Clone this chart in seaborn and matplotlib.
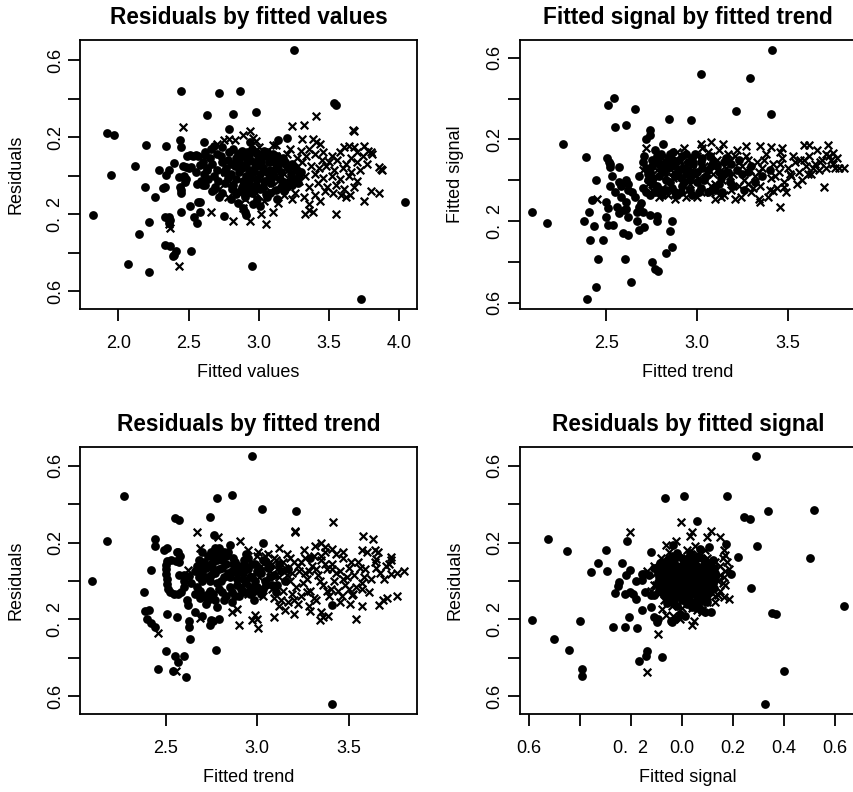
import matplotlib
matplotlib.use("Agg")
import pandas as pd
import matplotlib.pyplot as plt
import seaborn as sns

# Panel 1: residuals by fitted values (x = fitted value, y = residual)
fv_dots = [
    (3.25, 0.65), (2.45, 0.44), (2.72, 0.43), (2.87, 0.44), (3.54, 0.375), (3.55, 0.365),
    (2.63, 0.315), (2.82, 0.32), (2.98, 0.33), (2.79, 0.24), (1.92, 0.22), (1.97, 0.21),
    (2.20, 0.157), (2.34, 0.154), (2.44, 0.185), (2.45, 0.15), (2.61, 0.176), (3.14, 0.185),
    (3.20, 0.194), (2.12, 0.052), (1.95, 0.003), (2.19, -0.057), (2.26, -0.111), (2.29, 0.03),
    (2.32, -0.066), (2.33, -0.06), (2.34, 0.003), (2.36, 0.03), (2.40, 0.064), (2.43, -0.005),
    (2.45, -0.074), (2.45, -0.09), (2.44, -0.06), (2.475, -0.031), (2.49, 0.10), (2.51, 0.105),
    (2.53, 0.10), (2.55, 0.105), (2.57, 0.10), (2.46, 0.05), (2.48, 0.045), (2.50, 0.04),
    (2.52, 0.045), (2.58, 0.055), (2.59, -0.03), (2.60, -0.05), (2.63, 0.03), (2.58, -0.135),
    (2.57, -0.135), (2.45, -0.19), (2.51, -0.16), (2.58, -0.19), (2.54, -0.216), (2.56, -0.244),
    (1.82, -0.204), (2.33, -0.213), (2.36, -0.216), (2.36, -0.244), (2.37, -0.23), (2.22, -0.239),
    (2.15, -0.303), (2.33, -0.36), (2.37, -0.365), (2.41, -0.394), (2.39, -0.42), (2.40, -0.41),
    (2.52, -0.394), (2.07, -0.46), (2.22, -0.498), (2.95, -0.469), (2.75, -0.209), (2.90, -0.19),
    (2.91, -0.205), (3.73, -0.642), (4.04, -0.136), (3.01, -0.16), (2.89, -0.17), (2.47, 0.0),
    (2.48, -0.02), (2.55, 0.02), (2.56, -0.045), (2.68, 0.155), (2.94, 0.176), (2.62, 0.107),
    (2.66, 0.14), (2.74, 0.15), (2.82, 0.14), (2.88, 0.13), (2.95, 0.14), (3.04, 0.13),
    (2.62, 0.12), (2.70, 0.11), (2.79, 0.12), (2.85, 0.11), (2.92, 0.12), (2.99, 0.11),
    (3.06, 0.12), (3.13, 0.10), (2.65, 0.09), (2.73, 0.10), (2.78, 0.08), (2.84, 0.09),
    (2.89, 0.10), (2.94, 0.08), (3.00, 0.09), (3.05, 0.10), (3.10, 0.08), (3.17, 0.09),
    (2.60, 0.07), (2.67, 0.06), (2.74, 0.07), (2.81, 0.06), (2.86, 0.07), (2.91, 0.06),
    (2.97, 0.07), (3.02, 0.06), (3.07, 0.07), (3.12, 0.06), (3.19, 0.07), (3.24, 0.06),
    (2.63, 0.04), (2.70, 0.03), (2.77, 0.04), (2.83, 0.05), (2.88, 0.04), (2.93, 0.03),
    (2.98, 0.05), (3.03, 0.04), (3.08, 0.03), (3.14, 0.05), (3.21, 0.04), (3.27, 0.03),
    (2.61, 0.01), (2.68, 0.00), (2.75, 0.02), (2.80, 0.01), (2.86, 0.02), (2.91, 0.00),
    (2.96, 0.02), (3.01, 0.01), (3.06, 0.02), (3.11, 0.00), (3.16, 0.02), (3.23, 0.01),
    (3.29, 0.00), (2.64, -0.02), (2.71, -0.03), (2.78, -0.01), (2.84, -0.02), (2.89, -0.03),
    (2.94, -0.01), (2.99, -0.02), (3.04, -0.03), (3.09, -0.01), (3.15, -0.02), (3.22, -0.03),
    (2.62, -0.05), (2.69, -0.06), (2.76, -0.04), (2.82, -0.05), (2.88, -0.06), (2.93, -0.04),
    (2.98, -0.05), (3.03, -0.06), (3.09, -0.04), (3.16, -0.06), (3.24, -0.05), (2.67, -0.08),
    (2.74, -0.09), (2.81, -0.07), (2.87, -0.08), (2.95, -0.09), (3.01, -0.07), (3.08, -0.09),
    (3.18, -0.08), (2.72, -0.11), (2.80, -0.12), (2.90, -0.11), (2.99, -0.12), (3.06, -0.11),
    (3.13, -0.12), (2.85, -0.14), (2.96, -0.15), (2.92, 0.085), (2.97, 0.035), (3.02, 0.075),
    (3.07, -0.015), (3.12, 0.035), (3.18, -0.035), (2.93, -0.065), (2.86, 0.045), (3.10, 0.11),
    (2.87, 0.115), (2.93, 0.105), (2.98, 0.125), (3.03, 0.105), (3.08, 0.095), (3.15, 0.075),
    (3.20, 0.05), (3.26, 0.045), (3.25, -0.02), (3.20, -0.06), (3.12, -0.075), (3.05, -0.095),
    (2.97, -0.075), (2.91, -0.09), (2.84, -0.095), (3.30, 0.02), (3.28, -0.04),
]
fv_crosses = [
    (2.46, 0.25), (2.94, 0.23), (2.89, 0.21), (3.24, 0.255), (3.32, 0.265), (3.41, 0.31),
    (3.67, 0.235), (3.68, 0.23), (2.75, 0.185), (2.79, 0.19), (2.83, 0.185), (2.70, 0.165),
    (3.31, 0.19), (3.39, 0.19), (3.41, 0.175), (3.12, 0.16), (3.44, 0.165), (3.61, 0.15),
    (3.64, 0.155), (3.68, 0.15), (3.75, 0.155), (3.78, 0.13), (3.80, 0.12), (3.81, 0.11),
    (3.86, 0.045), (3.87, 0.035), (3.88, 0.03), (3.80, -0.08), (3.86, -0.09), (3.75, -0.13),
    (3.55, -0.20), (3.33, -0.20), (3.36, -0.18), (3.39, -0.19), (3.10, -0.19), (3.05, -0.25),
    (2.94, -0.235), (2.82, -0.235), (3.02, -0.20), (2.66, -0.19), (2.89, -0.17), (2.43, -0.47),
    (2.37, -0.27), (2.36, -0.25), (3.62, -0.11), (3.65, -0.10), (3.59, -0.10),
    (3.22, 0.14), (3.30, 0.13), (3.36, 0.14), (3.46, 0.12), (3.52, 0.10), (3.58, 0.12),
    (3.70, 0.12), (3.74, 0.10), (3.66, 0.09), (3.05, 0.12), (3.12, 0.10), (3.20, 0.11),
    (3.27, 0.09), (3.34, 0.10), (3.40, 0.11), (3.45, 0.08), (3.50, 0.07), (3.56, 0.08),
    (3.62, 0.06), (3.70, 0.07), (3.77, 0.06), (3.00, 0.08), (3.08, 0.07), (3.16, 0.06),
    (3.24, 0.05), (3.31, 0.07), (3.37, 0.05), (3.43, 0.04), (3.48, 0.05), (3.54, 0.03),
    (3.60, 0.04), (3.66, 0.02), (3.72, 0.03), (2.92, 0.05), (3.02, 0.03), (3.10, 0.02),
    (3.18, 0.01), (3.26, 0.02), (3.33, 0.00), (3.40, 0.01), (3.46, -0.01), (3.52, 0.00),
    (3.58, -0.02), (3.64, 0.00), (3.70, -0.03), (2.95, -0.02), (3.05, -0.04), (3.14, -0.03),
    (3.22, -0.05), (3.29, -0.03), (3.36, -0.06), (3.42, -0.04), (3.49, -0.06), (3.55, -0.05),
    (3.61, -0.07), (3.68, -0.06), (2.85, -0.08), (2.98, -0.09), (3.08, -0.08), (3.18, -0.10),
    (3.26, -0.09), (3.32, -0.11), (3.40, -0.10), (3.47, -0.08), (3.53, -0.09), (2.78, -0.11),
    (2.90, -0.12), (3.04, -0.13), (3.14, -0.14), (3.24, -0.12), (3.36, -0.15), (3.44, -0.13),
    (2.72, -0.07), (2.80, -0.04), (2.76, 0.02), (2.86, 0.10), (2.95, 0.12), (3.00, 0.15),
    (3.10, 0.16), (2.98, 0.18), (2.96, 0.195),
]

# Panel 2: fitted signal by fitted trend (x = trend, y = signal)
ts_dots = [
    (3.414, 0.638), (3.024, 0.518), (3.294, 0.502), (2.544, 0.401), (2.509, 0.368), (2.66, 0.349),
    (3.213, 0.337), (3.41, 0.324), (2.847, 0.298), (2.969, 0.295), (2.55, 0.262), (2.608, 0.27),
    (2.739, 0.246), (2.739, 0.221), (2.72, 0.20), (2.261, 0.177), (2.811, 0.176), (2.39, 0.115),
    (2.504, 0.107), (2.515, 0.09), (2.52, 0.08), (2.52, 0.066), (2.568, 0.063), (2.443, 0.0),
    (2.52, -0.03), (2.57, -0.01), (2.58, -0.03), (2.61, 0.0), (2.62, -0.02), (2.62, -0.05),
    (2.42, -0.097), (2.50, -0.105), (2.51, -0.137), (2.092, -0.156), (2.406, -0.154),
    (2.173, -0.211), (2.38, -0.2), (2.43, -0.222), (2.50, -0.18), (2.51, -0.22), (2.54, -0.22),
    (2.56, -0.13), (2.57, -0.16), (2.60, -0.145), (2.61, -0.14), (2.61, -0.105), (2.62, -0.18),
    (2.67, -0.154), (2.69, -0.11), (2.59, -0.26), (2.62, -0.27), (2.67, -0.2), (2.68, -0.245),
    (2.71, -0.23), (2.74, -0.17), (2.78, -0.175), (2.78, -0.2), (2.86, -0.2), (2.85, -0.25),
    (2.86, -0.326), (2.83, -0.354), (2.41, -0.293), (2.485, -0.293), (2.454, -0.388),
    (2.605, -0.388), (2.752, -0.40), (2.77, -0.437), (2.785, -0.445), (2.636, -0.497),
    (2.441, -0.522), (2.393, -0.584), (2.64, -0.06), (2.66, -0.08), (2.68, -0.13), (2.70, -0.155),
    (2.55, -0.06), (2.58, -0.08), (2.53, 0.02),
    (2.68, 0.02), (2.70, -0.04), (2.72, 0.06), (2.74, -0.07), (2.75, 0.10), (2.76, 0.01),
    (2.78, -0.03), (2.79, 0.08), (2.80, 0.13), (2.81, -0.07), (2.82, 0.04), (2.84, 0.11),
    (2.85, -0.01), (2.86, 0.07), (2.87, 0.14), (2.88, -0.06), (2.89, 0.03), (2.90, 0.10),
    (2.92, -0.03), (2.93, 0.06), (2.94, 0.13), (2.96, 0.00), (2.97, -0.07), (2.98, 0.08),
    (3.00, 0.04), (3.02, -0.04), (3.03, 0.11), (3.05, 0.02), (3.08, 0.07), (3.10, -0.05),
    (3.12, 0.04), (3.15, 0.09), (3.18, -0.01), (3.22, 0.05), (2.71, 0.12), (2.77, 0.15),
    (2.83, 0.09), (2.91, 0.01), (2.95, 0.05), (2.74, 0.04), (2.77, -0.06), (2.80, 0.06),
    (2.83, -0.05), (2.85, 0.13), (2.88, 0.08), (2.91, -0.06), (2.94, 0.03), (2.97, 0.11),
    (3.00, -0.01), (3.03, 0.06), (3.06, -0.06), (3.09, 0.09), (3.12, -0.02), (3.15, 0.03),
    (3.19, 0.08), (3.25, 0.03), (3.30, 0.07), (2.78, 0.10), (2.73, 0.00),
    (2.70, 0.09), (2.72, -0.06), (2.73, 0.03), (2.75, 0.07), (2.76, -0.02), (2.78, 0.12),
    (2.79, 0.02), (2.80, -0.05), (2.81, 0.08), (2.83, 0.00), (2.84, 0.06), (2.86, -0.04),
    (2.87, 0.10), (2.88, 0.02), (2.89, -0.07), (2.90, 0.05), (2.92, 0.12), (2.93, -0.01),
    (2.95, 0.09), (2.96, -0.05), (2.98, 0.03), (2.99, 0.13), (3.01, -0.06), (3.02, 0.09),
    (3.04, 0.00), (3.06, 0.05), (3.07, 0.12), (3.09, -0.04), (3.11, 0.07), (3.13, 0.01),
    (3.14, -0.06), (3.16, 0.11), (3.17, 0.04), (3.20, -0.03), (3.23, 0.10), (3.26, -0.05),
    (3.28, 0.04), (3.32, -0.01), (3.36, 0.02), (3.40, 0.05),
]
ts_crosses = [
    (3.02, 0.18), (3.08, 0.185), (3.145, 0.18), (3.27, 0.17), (3.35, 0.17), (3.41, 0.165),
    (3.47, 0.16), (3.59, 0.175), (3.62, 0.175), (3.66, 0.15), (3.72, 0.175), (3.75, 0.135),
    (3.76, 0.06), (3.78, 0.06), (3.81, 0.06), (3.70, -0.035), (3.46, -0.13), (3.35, -0.105),
    (3.48, -0.035), (3.42, -0.055), (2.72, 0.16), (2.45, -0.09),
    (2.70, 0.05), (2.73, -0.02), (2.76, 0.09), (2.79, -0.08), (2.83, 0.02), (2.86, 0.12),
    (2.88, -0.09), (2.90, 0.06), (2.93, 0.16), (2.95, -0.05), (2.98, 0.11), (3.00, -0.08),
    (3.01, 0.01), (3.04, 0.07), (3.06, 0.14), (3.07, -0.06), (3.09, 0.03), (3.11, 0.10),
    (3.13, -0.08), (3.14, 0.00), (3.16, 0.06), (3.17, 0.13), (3.19, -0.05), (3.20, 0.03),
    (3.23, 0.09), (3.24, -0.08), (3.26, 0.00), (3.27, 0.12), (3.29, 0.05), (3.30, -0.06),
    (3.32, 0.02), (3.33, 0.09), (3.35, -0.03), (3.36, 0.06), (3.38, 0.13), (3.39, -0.08),
    (3.41, 0.01), (3.42, 0.08), (3.44, -0.04), (3.45, 0.04), (3.47, 0.11), (3.48, -0.01),
    (3.50, 0.06), (3.52, 0.02), (3.54, 0.09), (3.56, 0.04), (3.58, 0.00), (3.60, 0.07),
    (3.62, 0.12), (3.63, 0.03), (3.65, 0.08), (3.67, 0.05), (3.69, 0.10), (3.71, 0.06),
    (3.73, 0.12), (3.75, 0.08), (3.59, 0.10), (3.53, 0.12), (3.46, 0.14), (3.22, 0.15),
    (3.12, 0.15), (3.03, 0.16), (2.96, -0.02), (3.08, -0.03), (3.18, 0.10), (3.28, -0.02),
    (3.34, -0.09), (3.21, -0.09), (3.10, -0.09), (2.99, 0.02), (2.87, 0.04), (2.81, -0.04),
    (2.75, -0.05), (2.78, 0.05), (2.81, 0.11), (2.84, -0.07), (2.87, 0.01), (2.89, 0.14),
    (2.92, 0.08), (2.94, -0.08), (2.97, 0.05), (3.00, 0.12), (3.02, -0.06), (3.05, 0.04),
    (3.08, 0.12), (3.10, -0.02), (3.13, 0.05), (3.15, -0.07), (3.18, 0.02), (3.21, 0.12),
    (3.23, -0.03), (3.25, 0.07), (3.28, 0.10), (3.31, -0.04), (3.34, 0.04), (3.37, 0.10),
    (3.40, -0.05), (3.43, 0.02), (3.46, 0.08), (3.49, -0.06), (3.51, 0.03), (3.55, -0.02),
    (3.57, 0.10), (3.61, 0.03), (3.64, 0.06), (3.68, 0.09), (3.71, 0.13), (3.74, 0.10),
    (3.77, 0.11),
]

# Panel 3: residuals by fitted trend (x = trend, y = residual)
tr_dots = [
    (2.973, 0.652), (2.271, 0.441), (2.864, 0.448), (2.782, 0.43), (3.025, 0.373), (3.209, 0.366),
    (2.553, 0.326), (2.571, 0.316), (2.74, 0.332), (2.18, 0.207), (2.444, 0.219), (2.444, 0.181),
    (2.765, 0.24), (3.029, 0.197), (2.489, 0.159), (2.505, 0.17), (2.569, 0.153), (2.10, 0.0),
    (2.418, 0.055), (2.384, -0.058), (2.389, -0.158), (2.411, -0.15), (2.40, -0.20), (2.42, -0.22),
    (2.44, -0.24), (2.51, -0.17), (2.56, -0.19), (2.50, -0.365), (2.55, -0.392), (2.565, -0.42),
    (2.60, -0.392), (2.46, -0.46), (2.54, -0.47), (2.61, -0.50), (2.775, -0.36), (3.405, -0.642),
    (2.633, -0.30), (2.63, -0.21), (2.63, -0.24), (2.66, -0.16), (2.70, -0.18), (2.74, -0.23),
    (2.76, -0.21), (2.79, -0.20), (2.75, -0.205), (2.78, -0.135), (2.62, -0.125), (2.615, -0.10),
    (3.405, -0.127), (3.287, 0.12), (2.77, 0.17), (2.78, 0.155),
    (2.51, 0.105), (2.53, 0.11), (2.555, 0.105), (2.575, 0.10), (2.50, 0.085), (2.50, 0.06),
    (2.50, 0.035), (2.505, 0.01), (2.51, -0.015), (2.515, -0.04), (2.525, -0.06), (2.545, -0.07),
    (2.565, -0.07), (2.585, -0.06), (2.575, 0.03), (2.60, 0.03), (2.625, 0.025), (2.60, 0.00),
    (2.60, -0.03), (2.56, 0.15), (2.58, 0.13),
    (2.66, 0.05), (2.67, -0.03), (2.68, 0.11), (2.70, 0.00), (2.71, -0.08), (2.72, 0.07),
    (2.73, 0.13), (2.74, -0.05), (2.75, 0.03), (2.76, 0.10), (2.77, -0.10), (2.78, -0.01),
    (2.79, 0.06), (2.80, 0.14), (2.81, -0.06), (2.82, 0.02), (2.83, 0.09), (2.84, 0.15),
    (2.85, -0.03), (2.86, 0.05), (2.87, 0.12), (2.88, -0.08), (2.89, 0.01), (2.90, 0.08),
    (2.91, -0.04), (2.92, 0.04), (2.93, 0.11), (2.94, -0.01), (2.95, 0.06), (2.96, -0.07),
    (2.97, 0.02), (2.99, 0.09), (3.00, -0.03), (3.02, 0.04), (3.04, 0.00), (3.06, 0.07),
    (3.08, -0.02), (2.69, 0.09), (2.77, 0.13), (2.64, -0.01), (2.72, -0.12), (2.86, -0.11),
    (2.98, -0.10), (2.79, 0.17), (2.85, 0.19), (2.70, 0.15), (2.68, 0.02), (2.71, 0.10),
    (2.74, 0.00), (2.76, 0.06), (2.79, -0.04), (2.81, 0.11), (2.83, -0.08), (2.84, 0.04),
    (2.87, 0.09), (2.89, -0.02), (2.91, 0.05), (2.93, -0.06), (2.95, 0.12), (2.96, 0.02),
    (2.98, -0.05), (3.01, 0.06), (3.03, -0.04), (3.05, 0.10), (3.07, 0.02), (3.10, -0.06),
    (3.13, 0.05), (2.66, -0.07), (2.69, -0.09), (2.73, -0.07), (2.75, 0.15), (2.82, 0.15),
    (2.67, 0.08), (2.69, -0.05), (2.70, 0.05), (2.72, 0.02), (2.73, -0.10), (2.75, 0.09),
    (2.76, -0.07), (2.77, 0.04), (2.78, 0.11), (2.80, 0.00), (2.81, 0.07), (2.82, -0.10),
    (2.83, 0.13), (2.85, 0.02), (2.86, -0.06), (2.88, 0.10), (2.89, 0.04), (2.90, -0.08),
    (2.92, 0.01), (2.93, 0.08), (2.94, 0.14), (2.96, -0.03), (2.97, 0.09), (2.99, 0.00),
    (3.00, 0.05), (3.02, -0.07), (3.03, 0.11), (3.05, -0.02), (3.07, 0.08), (3.09, 0.03),
    (3.11, -0.02), (3.12, 0.09), (3.15, 0.00), (3.17, 0.06),
]
tr_crosses = [
    (3.411, 0.309), (3.204, 0.262), (3.207, 0.254), (2.67, 0.254), (3.578, 0.233), (3.63, 0.219),
    (2.787, 0.228), (2.905, 0.207), (2.69, 0.174), (2.95, 0.159), (3.005, 0.15), (3.12, 0.17),
    (3.255, 0.164), (3.315, 0.184), (3.35, 0.20), (3.37, 0.175), (3.405, 0.166), (3.47, 0.15),
    (3.57, 0.159), (3.596, 0.15), (3.64, 0.159), (3.66, 0.15), (3.65, 0.115), (3.73, 0.124),
    (3.73, 0.107), (3.70, 0.08), (3.73, 0.037), (3.80, 0.05), (3.57, -0.01), (3.665, -0.124),
    (3.687, -0.10), (3.705, -0.09), (3.76, -0.08), (3.57, -0.13), (3.54, -0.20), (3.515, -0.075),
    (3.505, -0.12), (3.34, -0.205), (3.36, -0.188), (3.385, -0.18), (3.35, -0.16), (3.29, -0.158),
    (3.20, -0.17), (3.15, -0.15), (3.09, -0.188), (2.987, -0.175), (2.996, -0.197), (2.97, -0.205),
    (3.005, -0.243), (2.90, -0.23), (2.864, -0.162), (2.89, -0.145), (2.69, -0.193), (2.46, -0.27),
    (2.556, -0.47), (2.62, 0.055),
    (2.88, 0.06), (2.91, -0.02), (2.94, 0.10), (2.97, 0.03), (3.00, -0.06), (3.02, 0.08),
    (3.04, 0.13), (3.05, -0.01), (3.07, 0.05), (3.09, -0.09), (3.10, 0.11), (3.12, 0.02),
    (3.14, -0.05), (3.15, 0.07), (3.17, -0.11), (3.18, 0.00), (3.20, 0.10), (3.21, -0.03),
    (3.23, 0.05), (3.24, -0.08), (3.26, 0.12), (3.27, 0.01), (3.29, -0.05), (3.30, 0.08),
    (3.32, -0.10), (3.33, 0.03), (3.35, 0.11), (3.36, -0.02), (3.38, 0.06), (3.39, -0.08),
    (3.41, 0.09), (3.42, 0.00), (3.44, -0.05), (3.45, 0.05), (3.47, 0.12), (3.48, -0.02),
    (3.50, 0.07), (3.52, -0.07), (3.53, 0.03), (3.55, 0.10), (3.57, -0.04), (3.59, 0.06),
    (3.62, 0.01), (3.64, 0.10), (3.67, 0.04), (3.45, -0.11), (3.31, 0.13), (3.22, -0.12),
    (3.12, -0.13), (3.06, 0.14), (3.37, 0.15), (3.43, 0.14), (3.16, 0.14), (3.28, -0.13),
    (2.95, -0.07), (3.00, 0.13), (3.01, 0.02), (3.03, -0.08), (3.06, 0.09), (3.08, -0.04),
    (3.11, 0.06), (3.13, -0.10), (3.16, 0.03), (3.19, -0.07), (3.22, 0.08), (3.25, -0.01),
    (3.28, 0.05), (3.31, -0.09), (3.34, 0.00), (3.37, 0.09), (3.40, -0.04), (3.43, 0.04),
    (3.46, -0.08), (3.49, 0.02), (3.51, 0.10), (3.54, -0.03), (3.58, 0.02), (3.61, -0.06),
    (3.65, 0.07), (3.69, 0.01), (3.72, 0.09), (3.76, 0.04), (3.35, 0.13), (3.18, 0.12),
    (3.09, 0.12), (3.14, 0.10), (3.19, 0.04), (3.24, 0.10), (3.27, -0.06), (3.32, 0.06),
    (3.38, -0.05), (3.41, 0.06), (3.47, 0.01), (3.50, -0.04), (3.56, 0.07), (3.26, 0.04),
    (3.20, -0.10),
]

# Panel 4: residuals by fitted signal (x = signal, y = residual)
sr_dots = [
    (0.292, 0.652), (0.007, 0.444), (-0.068, 0.43), (0.176, 0.441), (0.336, 0.366), (0.519, 0.371),
    (0.242, 0.332), (0.265, 0.323), (0.061, 0.314), (-0.524, 0.219), (-0.45, 0.155), (-0.297, 0.159),
    (-0.214, 0.207), (0.174, 0.193), (0.294, 0.184), (0.218, 0.124), (0.503, 0.12), (-0.327, 0.094),
    (-0.357, 0.049), (-0.294, 0.051), (-0.235, 0.094), (-0.218, 0.032), (-0.203, 0.055),
    (-0.248, -0.006), (-0.252, -0.027), (-0.261, -0.061), (-0.222, -0.067), (-0.203, -0.058),
    (-0.19, -0.067), (-0.18, -0.093), (-0.18, 0.002), (-0.157, 0.006), (-0.144, -0.058),
    (-0.15, 0.037), (-0.122, 0.15), (-0.127, 0.029), (-0.111, 0.066), (-0.12, -0.136),
    (-0.157, -0.153), (-0.111, -0.188), (-0.098, -0.214), (-0.092, -0.2), (-0.208, -0.19),
    (-0.176, -0.245), (-0.222, -0.24), (-0.27, -0.24), (-0.399, -0.21), (-0.587, -0.205),
    (-0.50, -0.304), (-0.442, -0.36), (-0.392, -0.46), (-0.391, -0.496), (-0.169, -0.418),
    (-0.14, -0.39), (-0.135, -0.366), (-0.077, -0.396), (0.269, -0.036), (0.353, -0.165),
    (0.37, -0.174), (0.634, -0.133), (0.401, -0.47), (0.324, -0.642), (0.114, -0.162),
    (0.193, 0.034), (-0.042, -0.21), (-0.157, 0.037), (-0.122, -0.075), (-0.111, -0.075),
    (-0.04, -0.214), (-0.026, -0.2), (-0.007, -0.17), (0.013, -0.18), (0.072, -0.145),
    (0.092, -0.162), (0.105, 0.176), (0.072, 0.167), (-0.033, 0.19),
    (-0.04, 0.13), (0.00, 0.12), (0.04, 0.13), (0.08, 0.12), (-0.07, 0.10), (-0.03, 0.11),
    (0.01, 0.10), (0.05, 0.11), (0.09, 0.10), (0.12, 0.11), (-0.08, 0.08), (-0.05, 0.09),
    (-0.02, 0.08), (0.02, 0.09), (0.06, 0.08), (0.10, 0.07), (-0.09, 0.06), (-0.06, 0.05),
    (-0.03, 0.06), (0.00, 0.07), (0.03, 0.06), (0.07, 0.05), (0.11, 0.06), (-0.08, 0.04),
    (-0.05, 0.03), (-0.01, 0.04), (0.02, 0.03), (0.05, 0.04), (0.09, 0.03), (0.13, 0.04),
    (-0.09, 0.02), (-0.06, 0.01), (-0.03, 0.02), (0.01, 0.01), (0.04, 0.02), (0.08, 0.01),
    (0.11, 0.02), (-0.08, 0.00), (-0.05, -0.01), (-0.02, 0.00), (0.02, -0.01), (0.05, 0.00),
    (0.09, -0.01), (0.12, 0.00), (-0.09, -0.02), (-0.06, -0.03), (-0.03, -0.02), (0.00, -0.03),
    (0.04, -0.02), (0.07, -0.03), (0.11, -0.02), (-0.08, -0.05), (-0.04, -0.04), (-0.01, -0.05),
    (0.03, -0.04), (0.06, -0.05), (0.10, -0.04), (-0.07, -0.07), (-0.03, -0.06), (0.01, -0.07),
    (0.04, -0.06), (0.08, -0.07), (0.11, -0.06), (-0.06, -0.09), (-0.02, -0.08), (0.02, -0.09),
    (0.06, -0.08), (0.09, -0.09), (-0.04, -0.11), (0.00, -0.10), (0.04, -0.11), (0.08, -0.10),
    (-0.02, -0.13), (0.02, -0.12), (0.06, -0.13),
    (-0.055, 0.115), (-0.015, 0.13), (0.025, 0.12), (0.065, 0.125), (0.105, 0.09), (-0.085, 0.095),
    (-0.035, 0.085), (0.005, 0.085), (0.045, 0.095), (0.085, 0.085), (-0.075, 0.065), (-0.045, 0.07),
    (-0.015, 0.065), (0.015, 0.075), (0.055, 0.065), (0.095, 0.055), (0.125, 0.07), (-0.095, 0.04),
    (-0.065, 0.035), (-0.035, 0.04), (0.005, 0.045), (0.035, 0.035), (0.075, 0.035), (0.115, 0.04),
    (-0.075, 0.015), (-0.045, 0.02), (-0.01, 0.02), (0.025, 0.015), (0.06, 0.02), (0.095, 0.015),
    (0.13, 0.02), (-0.095, -0.005), (-0.065, -0.01), (-0.035, -0.005), (0.005, -0.01), (0.035, -0.005),
    (0.07, -0.01), (0.105, -0.005), (-0.075, -0.03), (-0.045, -0.025), (-0.015, -0.035), (0.02, -0.03),
    (0.055, -0.035), (0.09, -0.025), (0.125, -0.035), (-0.09, -0.045), (-0.055, -0.05), (-0.02, -0.055),
    (0.015, -0.05), (0.045, -0.045), (0.08, -0.05), (-0.05, -0.075), (-0.01, -0.08), (0.03, -0.075),
    (0.065, -0.085), (0.10, -0.075), (-0.03, -0.10), (0.02, -0.105), (0.06, -0.105), (0.10, -0.11),
    (-0.06, -0.115), (0.04, -0.135), (-0.02, 0.145), (0.03, 0.145),
]
sr_crosses = [
    (-0.204, 0.254), (-0.003, 0.309), (0.039, 0.254), (0.033, 0.237), (0.114, 0.262), (0.098, 0.228),
    (0.15, 0.228), (-0.022, 0.207), (-0.061, 0.19), (0.163, 0.159), (0.17, 0.133), (0.176, 0.098),
    (0.183, 0.063), (0.163, 0.02), (0.17, -0.023), (0.183, -0.093), (0.163, -0.084), (-0.135, 0.05),
    (-0.111, -0.02), (-0.078, -0.145), (-0.092, -0.274), (-0.137, -0.477), (0.039, -0.231),
    (0.046, -0.21), (0.059, -0.153), (0.078, -0.162), (-0.007, -0.197), (-0.033, -0.185),
    (-0.061, -0.176), (0.14, -0.072), (0.131, -0.11),
    (0.06, 0.14), (0.10, 0.12), (0.13, 0.10), (0.15, 0.08), (0.12, 0.06), (0.15, 0.03),
    (0.14, 0.00), (0.12, -0.03), (0.15, -0.05), (0.13, -0.08), (0.10, -0.11), (0.07, -0.13),
    (0.04, -0.14), (0.00, -0.14), (-0.04, -0.13), (-0.07, -0.10), (-0.09, -0.07), (-0.10, -0.02),
    (-0.10, 0.04), (-0.08, 0.12), (-0.05, 0.15), (0.02, 0.16), (0.05, 0.18), (0.09, 0.16),
    (0.16, 0.12), (0.17, 0.05), (0.16, -0.01), (-0.11, 0.08), (-0.12, -0.05), (0.08, -0.15),
]

# axis setup
res_ticks = [-0.6, -0.4, -0.2, 0.0, 0.2, 0.4, 0.6]
res_tick_labels = ["0.6", "", "0.  2", "", "0.2", "", "0.6"]
fv_ticks = [2.0, 2.5, 3.0, 3.5, 4.0]
trend_ticks = [2.5, 3.0, 3.5]
signal_ticks = [-0.6, -0.4, -0.2, 0.0, 0.2, 0.4, 0.6]
signal_tick_labels = ["0.6", "", "0.  2", "0.0", "0.2", "0.4", "0.6"]

sns.set_theme(style="ticks")
plt.rcParams["font.family"] = ["Liberation Sans", "DejaVu Sans"]
plt.rcParams["text.color"] = "black"
plt.rcParams["axes.labelcolor"] = "black"
plt.rcParams["xtick.color"] = "black"
plt.rcParams["ytick.color"] = "black"

fig = plt.figure(figsize=(8.54, 7.92), dpi=100)


def draw_panel(rect, dots, crosses, title, xlabel, ylabel, xlim, ylim,
               xticks, xticklabels, yticks, yticklabels):
    ax = fig.add_axes(rect)
    d = pd.DataFrame(dots, columns=["x", "y"])
    c = pd.DataFrame(crosses, columns=["x", "y"])
    sns.scatterplot(data=d, x="x", y="y", ax=ax, color="black", marker="o",
                    s=40, linewidth=0)
    sns.scatterplot(data=c, x="x", y="y", ax=ax, color="black", marker="x",
                    s=30, linewidth=1.6)
    ax.set_xlim(xlim)
    ax.set_ylim(ylim)
    ax.set_xticks(xticks)
    ax.set_xticklabels(xticklabels)
    ax.set_yticks(yticks)
    ax.set_yticklabels(yticklabels, rotation=90, va="center")
    ax.tick_params(direction="out", length=8.5, width=1.3, labelsize=13,
                   bottom=True, left=True)
    ax.tick_params(axis="x", pad=10)
    ax.tick_params(axis="y", pad=3)
    for sp in ax.spines.values():
        sp.set_visible(True)
        sp.set_color("black")
        sp.set_linewidth(1.3)
    ax.set_title(title, fontsize=16.3, fontweight="bold", pad=11.5)
    ax.set_xlabel(xlabel, fontsize=13)
    ax.set_ylabel(ylabel, fontsize=13)
    ax.xaxis.set_label_coords(0.5, -0.205)
    ax.yaxis.set_label_coords(-0.166, 0.5)
    return ax


fv_labels = [f"{t:.1f}" for t in fv_ticks]
trend_labels = [f"{t:.1f}" for t in trend_ticks]

draw_panel([0.0937, 0.6095, 0.3946, 0.3400], fv_dots, fv_crosses,
           "Residuals by fitted values", "Fitted values", "Residuals",
           (1.727, 4.128), (-0.694, 0.704), fv_ticks, fv_labels,
           res_ticks, res_tick_labels)
draw_panel([0.6085, 0.6095, 0.3946, 0.3400], ts_dots, ts_crosses,
           "Fitted signal by fitted trend", "Fitted trend", "Fitted signal",
           (2.023, 3.88), (-0.632, 0.687), trend_ticks, trend_labels,
           res_ticks, res_tick_labels)
draw_panel([0.0937, 0.0981, 0.3946, 0.3379], tr_dots, tr_crosses,
           "Residuals by fitted trend", "Fitted trend", "Residuals",
           (2.033, 3.871), (-0.695, 0.700), trend_ticks, trend_labels,
           res_ticks, res_tick_labels)
draw_panel([0.6085, 0.0981, 0.3946, 0.3379], sr_dots, sr_crosses,
           "Residuals by fitted signal", "Fitted signal", "Residuals",
           (-0.635, 0.684), (-0.695, 0.700), signal_ticks, signal_tick_labels,
           res_ticks, res_tick_labels)

fig.savefig("out.png", dpi=100, facecolor="white")
